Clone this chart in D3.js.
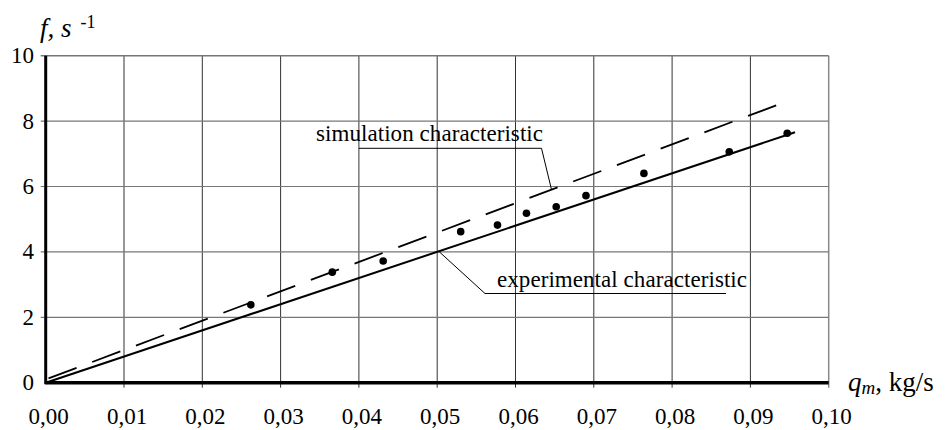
<!DOCTYPE html>
<html>
<head>
<meta charset="utf-8">
<script src="https://cdn.jsdelivr.net/npm/d3@7"></script>
<style>
  body { margin: 0; background: #fff; }
  svg text { font-family: "Liberation Serif", "Times New Roman", serif; fill: #000; }
</style>
</head>
<body>
<svg id="chart" width="947" height="430" font-family="Liberation Serif"></svg>
<script>
// ticks
const qTicks = [0, 0.01, 0.02, 0.03, 0.04, 0.05, 0.06, 0.07, 0.08, 0.09, 0.10];
const fTicks = [0, 2, 4, 6, 8, 10];

// measured points
const measuredQ = [0.0262, 0.0366, 0.0431, 0.0530, 0.0577, 0.0614, 0.0652, 0.0690, 0.0764, 0.0873, 0.0947];
const measuredF = [2.38, 3.38, 3.72, 4.62, 4.82, 5.18, 5.38, 5.72, 6.40, 7.06, 7.63];

// characteristic lines (end points)
const simQ = [0, 0.0935];
const simF = [0.1, 8.5];
const expQ = [0, 0.0957];
const expF = [0, 7.66];

const svg = d3.select("#chart");
const margin = {left: 45.7, right: 947 - 828.7, top: 55.7, bottom: 430 - 382.7};
const W = 947, H = 430;
const serif = "'Liberation Serif', 'Times New Roman', serif";

const x = d3.scaleLinear().domain([0, 0.10]).range([margin.left, W - margin.right]);
const y = d3.scaleLinear().domain([0, 10]).range([H - margin.bottom, margin.top]);

const fmt = d => d3.format(".2f")(d).replace(".", ",");

// grid
const grid = svg.append("g");
grid.selectAll(".vg").data(qTicks.slice(1)).enter().append("line")
  .attr("x1", d => x(d)).attr("x2", d => x(d))
  .attr("y1", y(10)).attr("y2", y(0) + 5)
  .attr("stroke", (d, i) => i == qTicks.length - 2 ? "#888" : "#333")
  .attr("stroke-width", (d, i) => i == qTicks.length - 2 ? 1.5 : 1);
grid.selectAll(".hg").data(fTicks.slice(1)).enter().append("line")
  .attr("x1", x(0) - 5).attr("x2", x(0.10))
  .attr("y1", d => y(d)).attr("y2", d => y(d))
  .attr("stroke", "#777")
  .attr("stroke-width", (d) => d == 10 ? 1.5 : 1.2);

// tick labels
svg.append("g").selectAll("text").data(qTicks).enter().append("text")
  .attr("x", d => x(d) + 3).attr("y", 424)
  .attr("text-anchor", "middle")
  .style("font-family", serif).style("font-size", "23px")
  .text(fmt);
svg.append("g").selectAll("text").data(fTicks).enter().append("text")
  .attr("x", 34).attr("y", d => y(d) + 7.5)
  .attr("text-anchor", "end")
  .style("font-family", serif).style("font-size", "23px")
  .text(d => d);

// axes
svg.append("line").attr("x1", x(0)).attr("x2", x(0)).attr("y1", y(10)).attr("y2", y(0) + 1.5)
  .attr("stroke", "#000").attr("stroke-width", 3);
svg.append("line").attr("x1", x(0)).attr("x2", x(0.10)).attr("y1", y(0)).attr("y2", y(0))
  .attr("stroke", "#000").attr("stroke-width", 3.5);

// lines
const line = d3.line().x(d => x(d[0])).y(d => y(d[1]));
svg.append("path")
  .datum(simQ.map((q, i) => [q, simF[i]]))
  .attr("d", line)
  .attr("fill", "none").attr("stroke", "#000").attr("stroke-width", 1.8)
  .attr("stroke-dasharray", "30,16.7").attr("stroke-dashoffset", -3);
svg.append("path")
  .datum(expQ.map((q, i) => [q, expF[i]]))
  .attr("d", line)
  .attr("fill", "none").attr("stroke", "#000").attr("stroke-width", 2);

// points
svg.append("g").selectAll("circle").data(measuredQ).enter().append("circle")
  .attr("cx", d => x(d)).attr("cy", (d, i) => y(measuredF[i]))
  .attr("r", 3.8).attr("fill", "#000");

// annotations
const simAt = 0.0646;
const simY = simF[0] + (simF[1] - simF[0]) * simAt / simQ[1];
svg.append("path")
  .attr("d", d3.line()([[x(0.04), 148.3], [541.5, 148.3], [x(simAt), y(simY)]]))
  .attr("fill", "none").attr("stroke", "#000").attr("stroke-width", 1);
svg.append("text").attr("x", 316).attr("y", 141)
  .attr("textLength", 227)
  .style("font-family", serif).style("font-size", "23px").text("simulation characteristic");

const expAt = 0.0502;
const expY = expF[1] * expAt / expQ[1];
svg.append("path")
  .attr("d", d3.line()([[x(expAt), y(expY)], [485, 293.5], [726, 293.5]]))
  .attr("fill", "none").attr("stroke", "#000").attr("stroke-width", 1);
svg.append("text").attr("x", 497).attr("y", 287)
  .attr("textLength", 250)
  .style("font-family", serif).style("font-size", "23px").text("experimental characteristic");

// axis titles
const yt = svg.append("text").attr("x", 40).attr("y", 37)
  .style("font-family", serif).style("font-size", "27px");
yt.append("tspan").style("font-style", "italic").text("f, s");
yt.append("tspan").attr("dx", 9).attr("dy", -9).style("font-size", "18px").text("-1");

const xt = svg.append("text").attr("x", 848).attr("y", 391)
  .style("font-family", serif).style("font-size", "27px");
xt.append("tspan").style("font-style", "italic").text("q");
xt.append("tspan").attr("dy", 3).style("font-style", "italic").style("font-size", "19px").text("m");
xt.append("tspan").attr("dy", -3).text(", kg/s");
</script>
</body>
</html>
